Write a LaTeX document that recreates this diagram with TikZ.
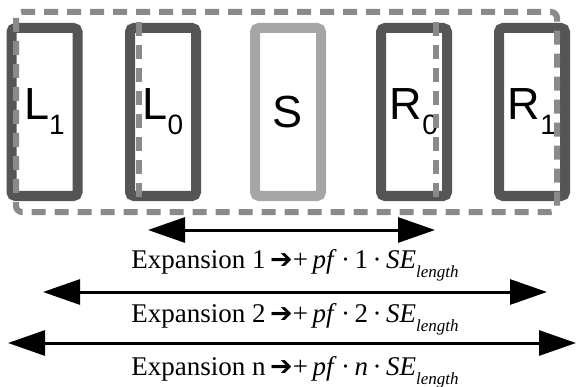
\documentclass[tikz,border=0pt]{standalone}
\usepackage{fontspec}
\setmainfont{Liberation Serif}
\newfontfamily\boxfont{Liberation Sans}
\newfontfamily\symfont{DejaVu Sans}
\usepackage{xcolor}
\usetikzlibrary{arrows.meta}

\definecolor{boxgray}{HTML}{555555}
\definecolor{segray}{HTML}{A6A6A6}
\definecolor{dashgray}{HTML}{8A8A8A}

\newcommand{\boxlabel}[2]{#1\raisebox{-15pt}{\fontsize{28}{28}\selectfont #2}}
\newcommand{\explabel}[2]{Expansion #1\,{\symfont ➔}+\,\textit{pf}\,·\,#2\,·\,\textit{SE}\raisebox{-9pt}{\fontsize{17}{17}\selectfont\itshape length}}

\begin{document}
\begin{tikzpicture}[x=1pt, y=-1pt, >={Triangle[length=37pt,width=25pt]},
  selbox/.style={draw=boxgray, line width=10pt, rounded corners=4pt,
    minimum width=66pt, minimum height=168pt, inner sep=0pt,
    font=\boxfont\fontsize{45}{45}\selectfont},
  dashline/.style={dashgray, line width=6pt, dash pattern=on 14pt off 9pt},
  explabel/.style={anchor=base, inner sep=0pt, font=\fontsize{27}{27}\selectfont}]

  \useasboundingbox (0,0) rectangle (577,387);

  %--- Segments ------------------------------------------------------------
  \node[selbox] (l1) at (44.5,112) {\boxlabel{L}{1}};
  \node[selbox] (l0) at (163,112)  {\boxlabel{L}{0}};
  \node[selbox, draw=segray] (s) at (288,112) {S};
  \node[selbox] (r0) at (414,112)  {\boxlabel{R}{0}};
  \node[selbox] (r1) at (532,112)  {\boxlabel{R}{1}};

  %--- Expansion windows ---------------------------------------------------
  \draw[dashline, rounded corners=6pt] (16,12) rectangle (557,212);
  \draw[dashline] (139,22) -- (139,200);
  \draw[dashline] (436,22) -- (436,200);

  %--- Expansion arrows ----------------------------------------------------
  \coordinate (e1w) at (148,230);
  \coordinate (e1e) at (435,230);
  \coordinate (e2w) at (43,292);
  \coordinate (e2e) at (547,292);
  \coordinate (e3w) at (8,343);
  \coordinate (e3e) at (576,343);
  \draw[<->, line width=3pt] (e1w) -- (e1e);
  \draw[<->, line width=3pt] (e2w) -- (e2e);
  \draw[<->, line width=3pt] (e3w) -- (e3e);

  %--- Labels --------------------------------------------------------------
  \node[explabel] (t1) at (295,268) {\explabel{1}{1}};
  \node[explabel] (t2) at (295,322) {\explabel{2}{2}};
  \node[explabel] (t3) at (295,375) {\explabel{n}{\textit{n}}};

\end{tikzpicture}
\end{document}
